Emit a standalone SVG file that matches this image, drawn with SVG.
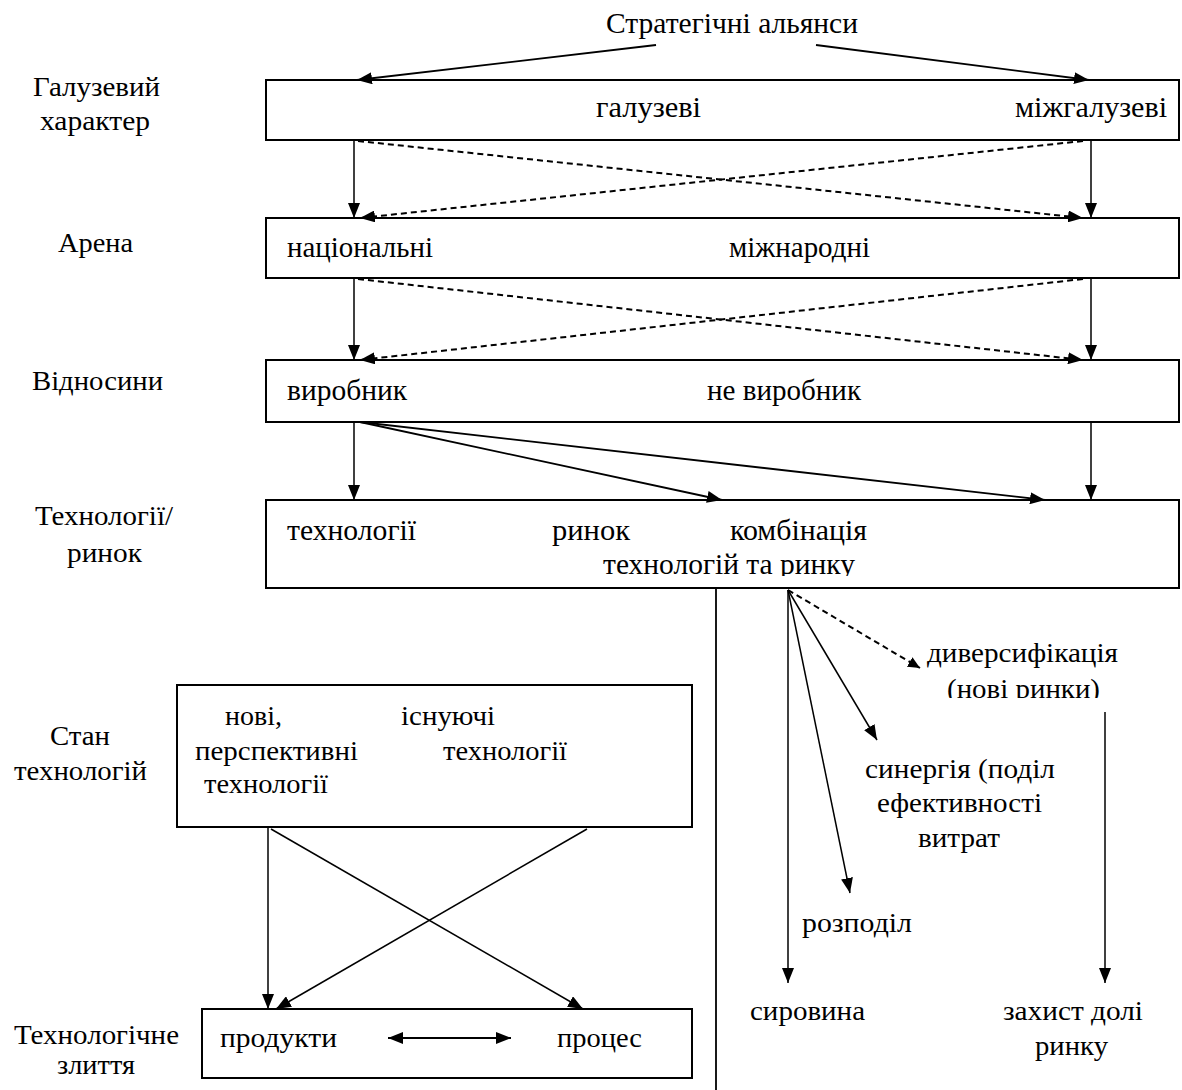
<svg xmlns="http://www.w3.org/2000/svg" width="1182" height="1090" viewBox="0 0 1182 1090">
  <style>
    .box { fill: #fff; stroke: #000; stroke-width: 2; }
    .ln { fill: none; stroke: #000; stroke-width: 1.8; }
    .thin { fill: none; stroke: #000; stroke-width: 1.5; }
    .dash { fill: none; stroke: #000; stroke-width: 2; stroke-dasharray: 6 4; }
  </style>
  <defs>
    <marker id="arr" markerUnits="userSpaceOnUse" markerWidth="16" markerHeight="12" refX="15" refY="6" orient="auto">
      <path d="M0,0 L15,6 L0,12 z" fill="#000"/>
    </marker>
    <marker id="arrS" markerUnits="userSpaceOnUse" markerWidth="13" markerHeight="11" refX="12" refY="5.5" orient="auto">
      <path d="M0,0 L12,5.5 L0,11 z" fill="#000"/>
    </marker>
    <marker id="arrStart" markerUnits="userSpaceOnUse" markerWidth="16" markerHeight="12" refX="0" refY="6" orient="auto">
      <path d="M15,0 L0,6 L15,12 z" fill="#000"/>
    </marker>
    <clipPath id="clipComb"><rect x="560" y="540" width="320" height="36"/></clipPath>
    <clipPath id="clipDiv"><rect x="930" y="670" width="200" height="28"/></clipPath>
  </defs>

  <!-- row labels -->
  <g id="labels">
    <text font-family="Liberation Serif" font-size="28" x="33" y="96" textLength="127" lengthAdjust="spacingAndGlyphs">Галузевий</text>
    <text font-family="Liberation Serif" font-size="28" x="40" y="130" textLength="110" lengthAdjust="spacingAndGlyphs">характер</text>
    <text font-family="Liberation Serif" font-size="28" x="58" y="252" textLength="75" lengthAdjust="spacingAndGlyphs">Арена</text>
    <text font-family="Liberation Serif" font-size="28" x="32" y="390" textLength="131" lengthAdjust="spacingAndGlyphs">Відносини</text>
    <text font-family="Liberation Serif" font-size="28" x="35" y="525" textLength="138" lengthAdjust="spacingAndGlyphs">Технології/</text>
    <text font-family="Liberation Serif" font-size="28" x="67" y="562" textLength="75" lengthAdjust="spacingAndGlyphs">ринок</text>
    <text font-family="Liberation Serif" font-size="28" x="50" y="745" textLength="60" lengthAdjust="spacingAndGlyphs">Стан</text>
    <text font-family="Liberation Serif" font-size="28" x="14" y="780" textLength="133" lengthAdjust="spacingAndGlyphs">технологій</text>
    <text font-family="Liberation Serif" font-size="28" x="14" y="1044" textLength="165" lengthAdjust="spacingAndGlyphs">Технологічне</text>
    <text font-family="Liberation Serif" font-size="28" x="57" y="1074" textLength="78" lengthAdjust="spacingAndGlyphs">злиття</text>
  </g>

  <g id="title">
    <text font-family="Liberation Serif" font-size="30" x="606" y="33" textLength="252" lengthAdjust="spacingAndGlyphs">Стратегічні альянси</text>
  </g>

  <g id="industry">
    <rect class="box" x="266" y="80" width="913" height="60"/>
    <text font-family="Liberation Serif" font-size="30" x="596" y="117" textLength="105" lengthAdjust="spacingAndGlyphs">галузеві</text>
    <text font-family="Liberation Serif" font-size="30" x="1015" y="117" textLength="152" lengthAdjust="spacingAndGlyphs">міжгалузеві</text>
  </g>

  <g id="arena">
    <rect class="box" x="266" y="218" width="913" height="60"/>
    <text font-family="Liberation Serif" font-size="30" x="287" y="257" textLength="146" lengthAdjust="spacingAndGlyphs">національні</text>
    <text font-family="Liberation Serif" font-size="30" x="729" y="257" textLength="141" lengthAdjust="spacingAndGlyphs">міжнародні</text>
  </g>

  <g id="relations">
    <rect class="box" x="266" y="360" width="913" height="62"/>
    <text font-family="Liberation Serif" font-size="30" x="287" y="400" textLength="120" lengthAdjust="spacingAndGlyphs">виробник</text>
    <text font-family="Liberation Serif" font-size="30" x="707" y="400" textLength="154" lengthAdjust="spacingAndGlyphs">не виробник</text>
  </g>

  <g id="tech-market">
    <rect class="box" x="266" y="500" width="913" height="88"/>
    <text font-family="Liberation Serif" font-size="30" x="287" y="540" textLength="129" lengthAdjust="spacingAndGlyphs">технології</text>
    <text font-family="Liberation Serif" font-size="30" x="552" y="540" textLength="78" lengthAdjust="spacingAndGlyphs">ринок</text>
    <text font-family="Liberation Serif" font-size="30" x="730" y="540" textLength="137" lengthAdjust="spacingAndGlyphs">комбінація</text>
    <text font-family="Liberation Serif" font-size="30" x="603" y="574" textLength="252" lengthAdjust="spacingAndGlyphs" clip-path="url(#clipComb)">технологій та ринку</text>
  </g>

  <g id="tech-state">
    <rect class="box" x="177" y="685" width="515" height="142"/>
    <text font-family="Liberation Serif" font-size="28" x="225" y="725" textLength="57" lengthAdjust="spacingAndGlyphs">нові,</text>
    <text font-family="Liberation Serif" font-size="28" x="401" y="725" textLength="94" lengthAdjust="spacingAndGlyphs">існуючі</text>
    <text font-family="Liberation Serif" font-size="28" x="195" y="760" textLength="163" lengthAdjust="spacingAndGlyphs">перспективні</text>
    <text font-family="Liberation Serif" font-size="28" x="443" y="760" textLength="124" lengthAdjust="spacingAndGlyphs">технології</text>
    <text font-family="Liberation Serif" font-size="28" x="204" y="793" textLength="124" lengthAdjust="spacingAndGlyphs">технології</text>
  </g>

  <g id="tech-fusion">
    <rect class="box" x="202" y="1009" width="490" height="69"/>
    <text font-family="Liberation Serif" font-size="28" x="220" y="1047" textLength="117" lengthAdjust="spacingAndGlyphs">продукти</text>
    <text font-family="Liberation Serif" font-size="28" x="557" y="1047" textLength="85" lengthAdjust="spacingAndGlyphs">процес</text>
  </g>

  <g id="outcomes">
    <text font-family="Liberation Serif" font-size="28" x="927" y="662" textLength="191" lengthAdjust="spacingAndGlyphs">диверсифікація</text>
    <text font-family="Liberation Serif" font-size="28" x="947" y="698" textLength="153" lengthAdjust="spacingAndGlyphs" clip-path="url(#clipDiv)">(нові ринки)</text>
    <text font-family="Liberation Serif" font-size="28" x="865" y="778" textLength="190" lengthAdjust="spacingAndGlyphs">синергія (поділ</text>
    <text font-family="Liberation Serif" font-size="28" x="877" y="812" textLength="165" lengthAdjust="spacingAndGlyphs">ефективності</text>
    <text font-family="Liberation Serif" font-size="28" x="918" y="847" textLength="82" lengthAdjust="spacingAndGlyphs">витрат</text>
    <text font-family="Liberation Serif" font-size="28" x="802" y="932" textLength="110" lengthAdjust="spacingAndGlyphs">розподіл</text>
    <text font-family="Liberation Serif" font-size="28" x="750" y="1020" textLength="115" lengthAdjust="spacingAndGlyphs">сировина</text>
    <text font-family="Liberation Serif" font-size="28" x="1003" y="1020" textLength="140" lengthAdjust="spacingAndGlyphs">захист долі</text>
    <text font-family="Liberation Serif" font-size="28" x="1035" y="1055" textLength="73" lengthAdjust="spacingAndGlyphs">ринку</text>
  </g>

  <g id="connectors">
    <!-- from the title -->
    <line class="ln" x1="656" y1="45" x2="357" y2="80" marker-end="url(#arr)"/>
    <line class="ln" x1="816" y1="45" x2="1089" y2="80" marker-end="url(#arr)"/>

    <!-- industry to arena -->
    <line class="thin" x1="354" y1="140" x2="354" y2="218" marker-end="url(#arr)"/>
    <line class="thin" x1="1091" y1="140" x2="1091" y2="218" marker-end="url(#arr)"/>
    <line class="dash" x1="358" y1="141" x2="1083" y2="218" marker-end="url(#arr)"/>
    <line class="dash" x1="1083" y1="141" x2="360" y2="218" marker-end="url(#arr)"/>

    <!-- arena to relations -->
    <line class="thin" x1="354" y1="278" x2="354" y2="360" marker-end="url(#arr)"/>
    <line class="thin" x1="1091" y1="278" x2="1091" y2="360" marker-end="url(#arr)"/>
    <line class="dash" x1="358" y1="279" x2="1083" y2="360" marker-end="url(#arr)"/>
    <line class="dash" x1="1083" y1="279" x2="360" y2="360" marker-end="url(#arr)"/>

    <!-- relations to technology/market -->
    <line class="thin" x1="354" y1="422" x2="354" y2="500" marker-end="url(#arr)"/>
    <line class="thin" x1="1091" y1="422" x2="1091" y2="500" marker-end="url(#arr)"/>
    <line class="ln" x1="360" y1="422" x2="722" y2="500" marker-end="url(#arr)"/>
    <line class="ln" x1="360" y1="422" x2="1045" y2="500" marker-end="url(#arr)"/>

    <!-- divider -->
    <line class="ln" x1="716" y1="588" x2="716" y2="1090" stroke-width="2"/>

    <!-- fan from the combination -->
    <line class="thin" x1="788" y1="590" x2="788" y2="983" marker-end="url(#arr)"/>
    <line class="thin" x1="788" y1="590" x2="850" y2="893" marker-end="url(#arr)"/>
    <line class="thin" x1="788" y1="590" x2="877" y2="740" marker-end="url(#arr)"/>
    <line class="dash" x1="788" y1="590" x2="920" y2="668" stroke-width="1.5" marker-end="url(#arrS)"/>
    <line class="thin" x1="1105" y1="712" x2="1105" y2="983" marker-end="url(#arr)"/>

    <!-- technology state to fusion -->
    <line class="thin" x1="268" y1="827" x2="268" y2="1009" marker-end="url(#arr)"/>
    <line class="thin" x1="271" y1="829" x2="583" y2="1009" marker-end="url(#arr)"/>
    <line class="thin" x1="587" y1="829" x2="276" y2="1009" marker-end="url(#arr)"/>
    <line class="ln" x1="388" y1="1038" x2="511" y2="1038" marker-start="url(#arrStart)" marker-end="url(#arr)"/>
  </g>
</svg>
